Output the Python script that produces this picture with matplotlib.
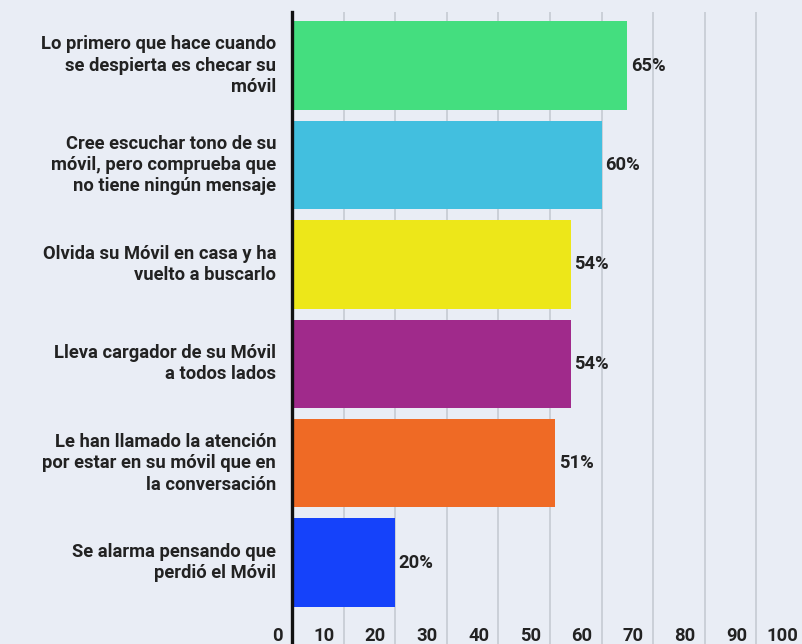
import matplotlib.pyplot as plt

categorias = [
    "Lo primero que hace cuando\nse despierta es checar su\nmóvil",
    "Cree escuchar tono de su\nmóvil, pero comprueba que\nno tiene ningún mensaje",
    "Olvida su Móvil en casa y ha\nvuelto a buscarlo",
    "Lleva cargador de su Móvil\na todos lados",
    "Le han llamado la atención\npor estar en su móvil que en\nla conversación",
    "Se alarma pensando que\nperdió el Móvil",
]
valores = [65, 60, 54, 54, 51, 20]
colores = ["#44de7f", "#42bfdf", "#ede719", "#a02a8b", "#ef6a25", "#1542fa"]
ticks_x = [0, 10, 20, 30, 40, 50, 60, 70, 80, 90, 100]

fondo = "#e9edf5"
texto = "#222222"

plt.rcParams['font.family'] = ['Roboto', 'DejaVu Sans']

fig = plt.figure(figsize=(8.02, 6.44), dpi=100)
fig.patch.set_facecolor(fondo)
ax = fig.add_axes([292 / 802, 0.0, 516 / 802, 632 / 644])
ax.set_facecolor(fondo)

y = list(range(len(valores)))
ax.barh(y, valores, height=0.89, color=colores, zorder=2)

ax.set_xlim(0, 100)
ax.set_ylim(5.82, -0.54)

# grade vertical
for t in ticks_x[1:]:
    ax.axvline(t, color="#cbd0d8", lw=1.4, zorder=1)

for s in ['top', 'right', 'bottom']:
    ax.spines[s].set_visible(False)
ax.spines['left'].set_linewidth(2.4)
ax.spines['left'].set_color("#111111")
ax.spines['left'].set_zorder(3)
ax.set_xticks([])
ax.set_yticks([])

# rótulos das categorias
for i, c in enumerate(categorias):
    ax.text(-3.1, i, c, ha='right', va='center', fontsize=13.2,
            fontweight='bold', color=texto, linespacing=1.24)

# valores
for i, v in enumerate(valores):
    ax.text(v + 0.7, i, f"{v}%", ha='left', va='center', fontsize=13.2,
            fontweight='bold', color=texto)

# rótulos do eixo x
for t in ticks_x:
    ax.text(t - 1.8, 5.74, str(t), ha='right', va='center', fontsize=13.2,
            fontweight='bold', color=texto)

plt.savefig('out.png', dpi=100, facecolor=fondo)
